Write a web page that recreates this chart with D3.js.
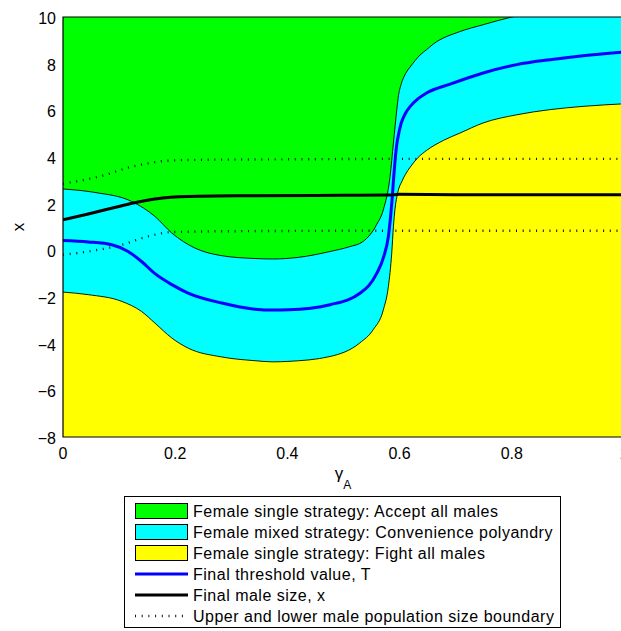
<!DOCTYPE html>
<html>
<head>
<meta charset="utf-8">
<script src="https://cdn.jsdelivr.net/npm/d3@7"></script>
<style>
  html, body { margin: 0; padding: 0; background: #fff; }
  svg { display: block; font-family: "Liberation Sans", Arial, Helvetica, sans-serif; }
</style>
</head>
<body>
<svg id="chart" width="621" height="631"></svg>
<script>
// Boundary between "accept all" and "convenience polyandry" regions
const upperGamma = [0, 0.057, 0.122, 0.164, 0.194, 0.235, 0.283, 0.342, 0.374, 0.42, 0.476, 0.51, 0.535, 0.559, 0.571, 0.583, 0.589, 0.595, 0.598, 0.6025, 0.6078, 0.6132, 0.6185, 0.6275, 0.6364, 0.648, 0.66, 0.708, 0.749, 0.80, 0.9, 1.0];
const upperX     = [2.63, 2.48, 2.10, 1.45, 0.74, 0.10, -0.23, -0.35, -0.37, -0.3, -0.05, 0.15, 0.38, 1.1, 1.74, 3.17, 4.6, 6.03, 6.63, 7.10, 7.44, 7.68, 7.85, 8.13, 8.37, 8.60, 8.84, 9.38, 9.67, 10.0, 10.4, 10.7];

// Boundary between "convenience polyandry" and "fight all" regions
const lowerGamma = [0, 0.045, 0.105, 0.14, 0.164, 0.194, 0.223, 0.283, 0.342, 0.374, 0.401, 0.476, 0.529, 0.553, 0.571, 0.580, 0.586, 0.589, 0.592, 0.595, 0.598, 0.604, 0.610, 0.619, 0.633, 0.648, 0.678, 0.708, 0.749, 0.809, 0.868, 0.927, 1.0];
const lowerX     = [-1.79, -1.90, -2.19, -2.62, -3.12, -3.76, -4.19, -4.57, -4.73, -4.78, -4.76, -4.55, -3.97, -3.40, -2.55, -1.55, -0.12, 1.02, 1.81, 2.28, 2.60, 2.95, 3.24, 3.57, 3.98, 4.28, 4.71, 5.03, 5.46, 5.81, 6.03, 6.17, 6.28];

// Final threshold value T
const thresholdGamma = [0, 0.045, 0.087, 0.116, 0.14, 0.164, 0.194, 0.223, 0.283, 0.342, 0.375, 0.402, 0.476, 0.53, 0.559, 0.572, 0.58, 0.586, 0.590, 0.595, 0.598, 0.602, 0.606, 0.611, 0.619, 0.632, 0.648, 0.69, 0.749, 0.809, 0.868, 0.927, 1.0];
const thresholdT     = [0.42, 0.36, 0.24, -0.05, -0.48, -1.0, -1.47, -1.83, -2.26, -2.52, -2.56, -2.55, -2.33, -1.83, -1.0, -0.25, 0.6, 2.0, 3.3, 4.55, 4.95, 5.38, 5.65, 5.9, 6.17, 6.48, 6.74, 7.12, 7.6, 7.96, 8.17, 8.34, 8.5];

// Final male size x
const maleGamma = [0, 0.045, 0.105, 0.134, 0.164, 0.223, 0.342, 0.5, 0.58, 0.6, 0.7, 1.0];
const maleSize  = [1.31, 1.56, 1.91, 2.07, 2.2, 2.31, 2.34, 2.36, 2.37, 2.4, 2.38, 2.38];

// Upper and lower male population size boundary
const popUpperGamma = [0, 0.066, 0.125, 0.155, 0.185, 0.244, 0.4, 0.6, 1.0];
const popUpperX     = [2.85, 3.17, 3.6, 3.74, 3.84, 3.88, 3.9, 3.92, 3.92];
const popLowerGamma = [0, 0.045, 0.105, 0.152, 0.194, 0.3, 0.6, 1.0];
const popLowerX     = [-0.19, -0.05, 0.24, 0.6, 0.78, 0.82, 0.84, 0.84];

// Axis ticks
const xTicks = [0, 0.2, 0.4, 0.6, 0.8, 1];
const yTicks = [10, 8, 6, 4, 2, 0, -2, -4, -6, -8];

// Legend entries
const legendLabels = [
  "Female single strategy: Accept all males",
  "Female mixed strategy: Convenience polyandry",
  "Female single strategy: Fight all males",
  "Final threshold value, T",
  "Final male size, x",
  "Upper and lower male population size boundary"
];

const colors = { accept: "#00ff00", mixed: "#00ffff", fight: "#ffff00", T: "#0000ff", x: "#000000" };

const svg = d3.select("#chart");
const pLeft = 63, pRight = 624, pTop = 17, pBottom = 437;

const xs = d3.scaleLinear().domain([0, 1]).range([pLeft, pRight]);
const ys = d3.scaleLinear().domain([-8, 10]).range([pBottom, pTop]);

const zip = (g, v) => g.map((d, i) => [d, v[i]]);

svg.append("defs").append("clipPath").attr("id", "plotClip")
  .append("rect").attr("x", pLeft).attr("y", pTop).attr("width", pRight - pLeft).attr("height", pBottom - pTop);

const plot = svg.append("g").attr("clip-path", "url(#plotClip)");

// Region fills: accept (background), mixed (below upper boundary), fight (below lower boundary)
plot.append("rect")
  .attr("x", xs(0)).attr("y", ys(10))
  .attr("width", xs(1) - xs(0)).attr("height", ys(-8) - ys(10))
  .attr("fill", colors.accept);

const curve = d3.curveMonotoneX;
const areaBelow = d3.area().x(d => xs(d[0])).y0(ys(-8)).y1(d => ys(d[1])).curve(curve);
const line = d3.line().x(d => xs(d[0])).y(d => ys(d[1])).curve(curve);

plot.append("path").datum(zip(upperGamma, upperX)).attr("d", areaBelow).attr("fill", colors.mixed);
plot.append("path").datum(zip(lowerGamma, lowerX)).attr("d", areaBelow).attr("fill", colors.fight);

// Region outlines
[zip(upperGamma, upperX), zip(lowerGamma, lowerX)].forEach(d => {
  plot.append("path").datum(d).attr("d", line)
    .attr("fill", "none").attr("stroke", "#000").attr("stroke-width", 0.9);
});

// Population size boundaries (dotted)
[zip(popUpperGamma, popUpperX), zip(popLowerGamma, popLowerX)].forEach(d => {
  plot.append("path").datum(d).attr("d", line)
    .attr("fill", "none").attr("stroke", "#111").attr("stroke-width", 2.4)
    .attr("stroke-dasharray", "1 5.7");
});

// Threshold and male size
plot.append("path").datum(zip(thresholdGamma, thresholdT)).attr("d", line)
  .attr("fill", "none").attr("stroke", colors.T).attr("stroke-width", 3);
plot.append("path").datum(zip(maleGamma, maleSize)).attr("d", line)
  .attr("fill", "none").attr("stroke", colors.x).attr("stroke-width", 3);

// Frame
svg.append("path")
  .attr("d", `M${pRight},${pTop}H${pLeft}V${pBottom}H${pRight}`)
  .attr("fill", "none").attr("stroke", "#000").attr("stroke-width", 1.2);

// Tick labels
const fmt = v => (v < 0 ? "\u2212" + Math.abs(v) : String(v));
svg.append("g").selectAll("text").data(yTicks).join("text")
  .attr("x", pLeft - 7).attr("y", d => ys(d) + 1.5)
  .attr("dy", "0.35em").attr("text-anchor", "end")
  .attr("font-size", 16).text(fmt);

svg.append("g").selectAll("text").data(xTicks).join("text")
  .attr("x", d => xs(d)).attr("y", pBottom + 22)
  .attr("text-anchor", "middle")
  .attr("font-size", 16).text(d => String(d));

// Axis titles
svg.append("text")
  .attr("transform", `translate(24,${(pTop + pBottom) / 2}) rotate(-90)`)
  .attr("text-anchor", "middle").attr("font-size", 17).text("x");

const xl = svg.append("text").attr("x", 343).attr("y", 479)
  .attr("text-anchor", "middle").attr("font-size", 17);
xl.append("tspan").text("\u03b3");
xl.append("tspan").attr("font-size", 12).attr("dy", 10).text("A");

// Legend
const lg = svg.append("g");
lg.append("rect").attr("x", 124.5).attr("y", 496.5).attr("width", 436).attr("height", 131)
  .attr("fill", "#fff").attr("stroke", "#000").attr("stroke-width", 1);

const rowY = i => 511 + i * 21;
const swX0 = 135, swX1 = 187;
const fills = [colors.accept, colors.mixed, colors.fight];
fills.forEach((c, i) => {
  lg.append("rect").attr("x", swX0 + 0.5).attr("y", rowY(i) - 7.5)
    .attr("width", swX1 - swX0).attr("height", 15)
    .attr("fill", c).attr("stroke", "#000").attr("stroke-width", 1);
});
lg.append("line").attr("x1", swX0).attr("x2", swX1 + 1).attr("y1", rowY(3)).attr("y2", rowY(3))
  .attr("stroke", colors.T).attr("stroke-width", 3);
lg.append("line").attr("x1", swX0).attr("x2", swX1 + 1).attr("y1", rowY(4)).attr("y2", rowY(4))
  .attr("stroke", colors.x).attr("stroke-width", 3);
lg.append("line").attr("x1", swX0).attr("x2", swX1 + 1).attr("y1", rowY(5)).attr("y2", rowY(5))
  .attr("stroke", "#111").attr("stroke-width", 2.4).attr("stroke-dasharray", "1 5.7");

lg.selectAll("text.lbl").data(legendLabels).join("text")
  .attr("class", "lbl")
  .attr("x", 193).attr("y", (d, i) => rowY(i))
  .attr("dy", "0.35em").attr("font-size", 16).attr("letter-spacing", 0.5).text(d => d);
</script>
</body>
</html>
